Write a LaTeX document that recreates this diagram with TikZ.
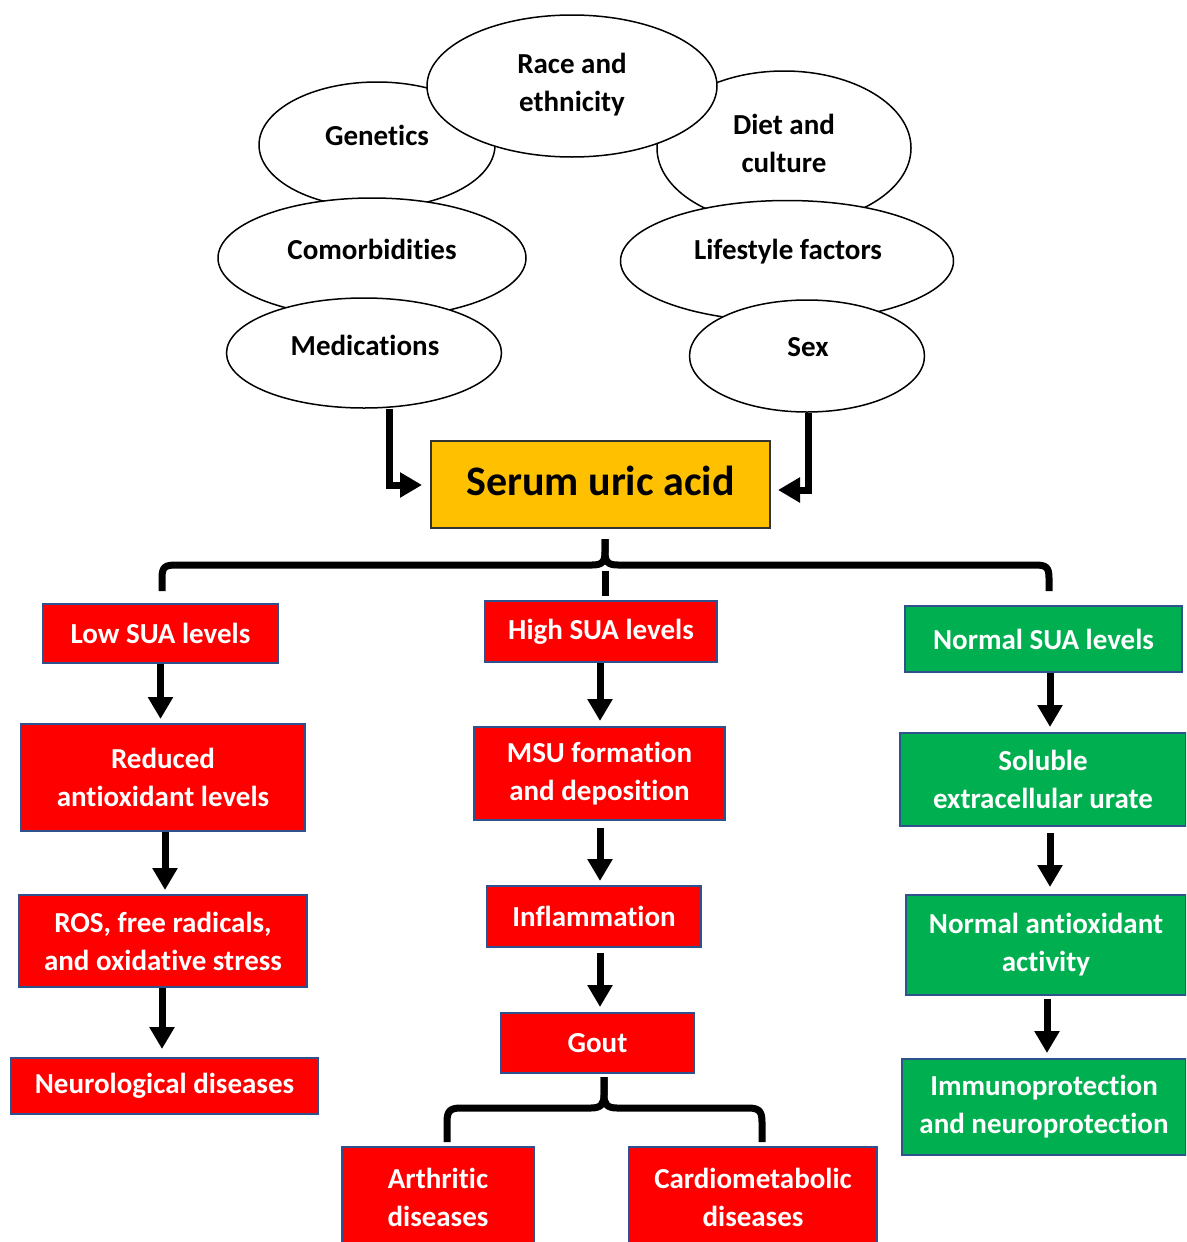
\documentclass[tikz,border=0pt]{standalone}
\usepackage{fontspec}
\setmainfont[Ligatures=NoCommon]{Carlito}
\usepackage{tikz}
\definecolor{suagold}{HTML}{FFC000}
\definecolor{suared}{HTML}{FF0000}
\definecolor{suagreen}{HTML}{00B050}
\definecolor{boxedge}{HTML}{2F528F}
\usetikzlibrary{positioning, arrows.meta, shapes.geometric}
\tikzstyle{arrow} = [line width=7pt,-{Triangle[width=24pt,length=22pt]}]

\begin{document}
\begin{tikzpicture}[x=1pt,y=1pt]
                \tikzstyle{every node}=[font=\fontsize{29}{38}\selectfont\bfseries]
                \tikzstyle{oval} = [ellipse, draw=black, line width=1.5pt, fill=white, inner sep=0pt]
                \tikzstyle{ovaltext} = [align=center, inner sep=0pt]
                \tikzstyle{redbox} = [rectangle, draw=boxedge, line width=2pt, fill=suared, text=white, align=center, inner sep=0pt]
                \tikzstyle{greenbox} = [redbox, fill=suagreen]
                \tikzstyle{bracel} = [line width=7pt, line join=round]

                \useasboundingbox (0,0) rectangle (1186,-1242);
                \clip (0,0) rectangle (1186,-1242);

                % factors
                \node[oval, minimum width=236pt, minimum height=126pt](gen) at (377,-145) {};
                \node[ovaltext](gent) at (377,-135) {Genetics};
                \node[oval, minimum width=254pt, minimum height=154pt](diet) at (784,-148) {};
                \node[ovaltext](dietxt) at (784,-143.5) {Diet and\\culture};
                \node[oval, minimum width=290pt, minimum height=142pt](race) at (572,-86) {};
                \node[ovaltext](racet) at (572,-84.5) {Race and\\ethnicity};
                \node[oval, minimum width=308pt, minimum height=120pt](com) at (372,-258) {};
                \node[ovaltext](comt) at (372,-249) {Comorbidities};
                \node[oval, minimum width=333pt, minimum height=121pt](life) at (787,-261) {};
                \node[ovaltext](lifet) at (788,-252) {Lifestyle factors};
                \node[oval, minimum width=275pt, minimum height=110pt](med) at (364,-353) {};
                \node[ovaltext](medt) at (365,-345) {Medications};
                \node[oval, minimum width=235pt, minimum height=112pt](sex) at (807,-356) {};
                \node[ovaltext](sext) at (808,-347) {Sex};

                \node[rectangle, draw=black!80, line width=2pt, fill=suagold, minimum width=339pt, minimum height=87pt, text depth=8pt, font=\fontsize{42}{50}\selectfont\bfseries](sua) at (600.5,-484.5) {Serum uric acid};

                \draw[arrow] ([xshift=25pt]med.south) |- ([xshift=-8pt,yshift=-0.5pt]sua.west);
                \draw[arrow] ([xshift=1pt]sex.south) |- ([xshift=7pt,yshift=-5.5pt]sua.east);

                % low SUA
                \node[redbox, minimum width=235pt, minimum height=59pt](low) at (160.5,-633.5) {Low SUA levels};
                \node[redbox, minimum width=284pt, minimum height=107pt](redox) at (163,-777.5) {Reduced\\antioxidant levels};
                \node[redbox, minimum width=288pt, minimum height=92pt](ros) at (163,-941) {ROS, free radicals,\\and oxidative stress};
                \node[redbox, minimum width=307pt, minimum height=56pt](neuro) at (164.5,-1086) {Neurological diseases};

                % high SUA
                \node[redbox, minimum width=232pt, minimum height=61pt](high) at (601,-631.5) {High SUA levels};
                \node[redbox, minimum width=251pt, minimum height=93pt](msu) at (599.5,-773.5) {MSU formation\\and deposition};
                \node[redbox, minimum width=214pt, minimum height=61pt](infl) at (594,-916.5) {Inflammation};
                \node[redbox, minimum width=193pt, minimum height=60pt](gout) at (597.5,-1043) {Gout};
                \node[redbox, minimum width=192pt, minimum height=100pt](arth) at (438,-1197) {Arthritic\\diseases};
                \node[redbox, minimum width=248pt, minimum height=100pt](cardio) at (753,-1197) {Cardiometabolic\\diseases};

                % normal SUA
                \node[greenbox, minimum width=277pt, minimum height=66pt](normal) at (1043.5,-639) {Normal SUA levels};
                \node[greenbox, minimum width=286pt, minimum height=93pt](sol) at (1043,-779.5) {Soluble\\extracellular urate};
                \node[greenbox, minimum width=280pt, minimum height=100pt](nanti) at (1046,-945) {Normal antioxidant\\activity};
                \node[greenbox, minimum width=284pt, minimum height=96pt](immuno) at (1044,-1107) {Immunoprotection\\and neuroprotection};

                % brace under serum uric acid
                \draw[bracel] ([xshift=1.5pt,yshift=12pt]low.north) -- (162,-578) .. controls (162,-567) and (165,-565) .. (176,-565) -- (592,-565) .. controls (602,-565) and (605,-562) .. (605,-552) -- ([xshift=4.5pt,yshift=-10pt]sua.south);
                \draw[bracel] ([xshift=4.5pt,yshift=-10pt]sua.south) -- (605,-552) .. controls (605,-562) and (608,-565) .. (618,-565) -- (1035,-565) .. controls (1046,-565) and (1049,-567) .. (1049,-578) -- ([xshift=5.5pt,yshift=14pt]normal.north);
                \draw[bracel] ([xshift=4pt,yshift=29pt]high.north) -- ([xshift=4pt,yshift=4pt]high.north);

                \draw[arrow] (low.south) -- ([yshift=4pt]low.south |- redox.north);
                \draw[arrow] ([xshift=2pt]redox.south) -- ([xshift=2pt,yshift=4pt]redox.south |- ros.north);
                \draw[arrow] ([xshift=-1pt]ros.south) -- ([xshift=-1pt,yshift=8pt]ros.south |- neuro.north);

                \draw[arrow] ([xshift=-1pt]high.south) -- ([xshift=-1pt,yshift=5pt]high.south |- msu.north);
                \draw[arrow] ([xshift=0.5pt,yshift=-7pt]msu.south) -- ([xshift=0.5pt,yshift=4pt]msu.south |- infl.north);
                \draw[arrow] ([xshift=6pt,yshift=-5pt]infl.south) -- ([xshift=6pt,yshift=5pt]infl.south |- gout.north);

                \draw[arrow] ([xshift=6.5pt]normal.south) -- ([xshift=6.5pt,yshift=5pt]normal.south |- sol.north);
                \draw[arrow] ([xshift=7pt,yshift=-6pt]sol.south) -- ([xshift=7pt,yshift=7pt]sol.south |- nanti.north);
                \draw[arrow] ([xshift=1pt,yshift=-3pt]nanti.south) -- ([xshift=1pt,yshift=5pt]nanti.south |- immuno.north);

                % brace under gout
                \draw[bracel] ([xshift=9pt,yshift=4pt]arth.north) -- (447,-1122) .. controls (447,-1111) and (450,-1108) .. (461,-1108) -- (591,-1108) .. controls (601,-1108) and (604,-1104) .. (604,-1095) -- ([xshift=6.5pt,yshift=-3pt]gout.south);
                \draw[bracel] ([xshift=6.5pt,yshift=-3pt]gout.south) -- (604,-1095) .. controls (604,-1104) and (607,-1108) .. (617,-1108) -- (748,-1108) .. controls (759,-1108) and (762,-1111) .. (762,-1122) -- ([xshift=9pt,yshift=4pt]cardio.north);

        \end{tikzpicture}
\end{document}
